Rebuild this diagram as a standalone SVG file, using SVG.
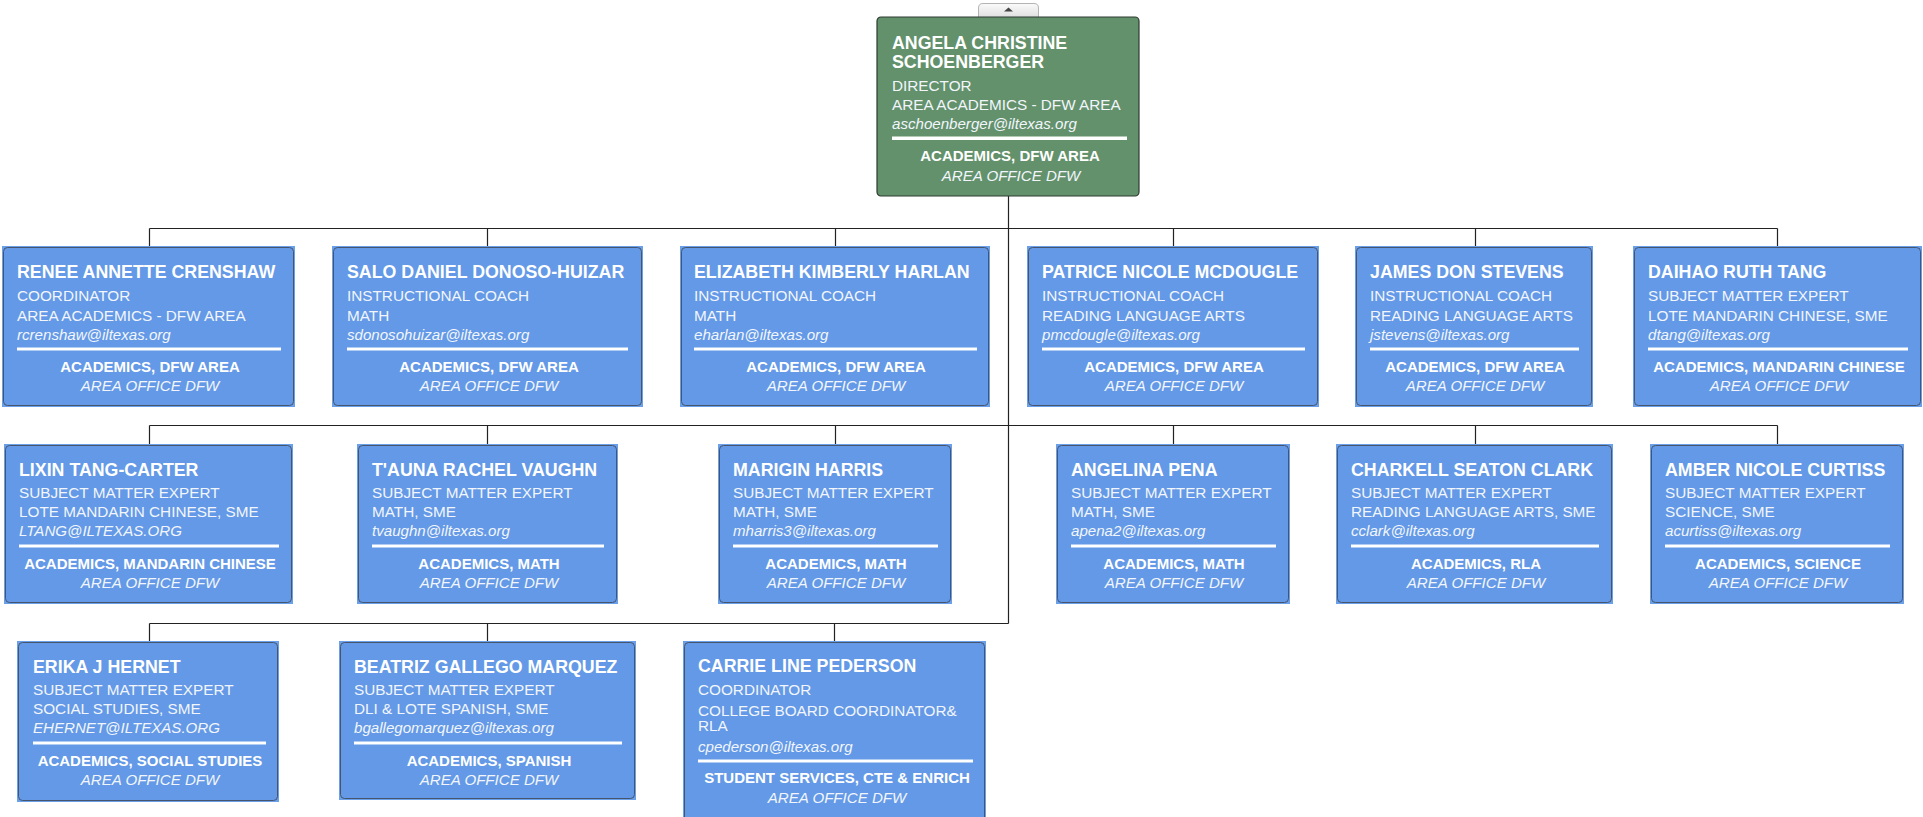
<svg xmlns="http://www.w3.org/2000/svg" width="1923" height="817" viewBox="0 0 1923 817">
<defs>
<linearGradient id="tabg" x1="0" y1="0" x2="0" y2="1">
<stop offset="0" stop-color="#fbfbfb"/>
<stop offset="1" stop-color="#dedede"/>
</linearGradient>
</defs>
<style>
text{font-family:"Liberation Sans",Arial,Helvetica,sans-serif;fill:#fff}
.nm{font-size:17.8px;font-weight:bold}
.t{font-size:15.3px;fill:#f2f6fc}
.em{font-size:15.1px;font-style:italic;fill:#f2f6fc}
.b{font-size:15px;font-weight:bold;text-anchor:middle}
.i{font-size:15.1px;font-style:italic;text-anchor:middle;fill:#f2f6fc}
.bg{fill:#6aa0ea}
.bx{fill:#6399e6;stroke:#46546c;stroke-width:1}
.gx{fill:#62916b;stroke:#2f3a31;stroke-width:1.2}
.sep{fill:#fff}
.con{fill:none;stroke:#222;stroke-width:1.2}
</style>
<rect width="1923" height="817" fill="#fff"/>

<g id="connectors">
<path class="con" d="M1008.5 196 V623.5 M149.5 228.5 H1777.5 M149.5 228.5 V247 M487.5 228.5 V247 M835.5 228.5 V247 M1173.5 228.5 V247 M1475.5 228.5 V247 M1777.5 228.5 V247 M149.5 425.5 H1777.5 M149.5 425.5 V445 M487.5 425.5 V445 M835.5 425.5 V445 M1173.5 425.5 V445 M1475.5 425.5 V445 M1777.5 425.5 V445 M149.5 623.5 H1008.5 M149.5 623.5 V642 M487.5 623.5 V642 M834.5 623.5 V642"/>
</g>

<g id="collapse-tab">
<path d="M978.5 18 V8 Q978.5 3.5 983 3.5 H1034 Q1038.5 3.5 1038.5 8 V18" fill="url(#tabg)" stroke="#b4b4b4"/>
<path d="M1004 11.5 L1008.5 7.5 L1013 11.5 Z" fill="#444"/>
</g>

<g id="n-schoenberger" transform="translate(877,17)">
<rect class="gx" x="0" y="0" width="262" height="179" rx="4"/>
<text class="nm" x="15" y="32">ANGELA CHRISTINE</text>
<text class="nm" x="15" y="51">SCHOENBERGER</text>
<text class="t" x="15" y="74">DIRECTOR</text>
<text class="t" x="15" y="93">AREA ACADEMICS - DFW AREA</text>
<text class="em" x="15" y="112">aschoenberger@iltexas.org</text>
<rect class="sep" x="15" y="119.5" width="235" height="3.5"/>
<text class="b" x="133" y="144">ACADEMICS, DFW AREA</text>
<text class="i" x="134" y="164">AREA OFFICE DFW</text>
</g>

<g id="n-crenshaw" transform="translate(3,247)">
<rect class="bg" x="-1" y="-1" width="293" height="161"/>
<rect class="bx" x="0.5" y="0.5" width="290" height="158" rx="4"/>
<text class="nm" x="14" y="31">RENEE ANNETTE CRENSHAW</text>
<text class="t" x="14" y="54">COORDINATOR</text>
<text class="t" x="14" y="74">AREA ACADEMICS - DFW AREA</text>
<text class="em" x="14" y="93">rcrenshaw@iltexas.org</text>
<rect class="sep" x="14" y="100.5" width="264" height="3"/>
<text class="b" x="147" y="125">ACADEMICS, DFW AREA</text>
<text class="i" x="147" y="144">AREA OFFICE DFW</text>
</g>

<g id="n-donosohuizar" transform="translate(333,247)">
<rect class="bg" x="-1" y="-1" width="311" height="161"/>
<rect class="bx" x="0.5" y="0.5" width="308" height="158" rx="4"/>
<text class="nm" x="14" y="31">SALO DANIEL DONOSO-HUIZAR</text>
<text class="t" x="14" y="54">INSTRUCTIONAL COACH</text>
<text class="t" x="14" y="74">MATH</text>
<text class="em" x="14" y="93">sdonosohuizar@iltexas.org</text>
<rect class="sep" x="14" y="100.5" width="281" height="3"/>
<text class="b" x="156" y="125">ACADEMICS, DFW AREA</text>
<text class="i" x="156" y="144">AREA OFFICE DFW</text>
</g>

<g id="n-harlan" transform="translate(681,247)">
<rect class="bg" x="-1" y="-1" width="310" height="161"/>
<rect class="bx" x="0.5" y="0.5" width="307" height="158" rx="4"/>
<text class="nm" x="13" y="31">ELIZABETH KIMBERLY HARLAN</text>
<text class="t" x="13" y="54">INSTRUCTIONAL COACH</text>
<text class="t" x="13" y="74">MATH</text>
<text class="em" x="13" y="93">eharlan@iltexas.org</text>
<rect class="sep" x="13" y="100.5" width="283" height="3"/>
<text class="b" x="155" y="125">ACADEMICS, DFW AREA</text>
<text class="i" x="155" y="144">AREA OFFICE DFW</text>
</g>

<g id="n-mcdougle" transform="translate(1028,247)">
<rect class="bg" x="-1" y="-1" width="292" height="161"/>
<rect class="bx" x="0.5" y="0.5" width="289" height="158" rx="4"/>
<text class="nm" x="14" y="31">PATRICE NICOLE MCDOUGLE</text>
<text class="t" x="14" y="54">INSTRUCTIONAL COACH</text>
<text class="t" x="14" y="74">READING LANGUAGE ARTS</text>
<text class="em" x="14" y="93">pmcdougle@iltexas.org</text>
<rect class="sep" x="14" y="100.5" width="263" height="3"/>
<text class="b" x="146" y="125">ACADEMICS, DFW AREA</text>
<text class="i" x="146" y="144">AREA OFFICE DFW</text>
</g>

<g id="n-stevens" transform="translate(1356,247)">
<rect class="bg" x="-1" y="-1" width="238" height="161"/>
<rect class="bx" x="0.5" y="0.5" width="235" height="158" rx="4"/>
<text class="nm" x="14" y="31">JAMES DON STEVENS</text>
<text class="t" x="14" y="54">INSTRUCTIONAL COACH</text>
<text class="t" x="14" y="74">READING LANGUAGE ARTS</text>
<text class="em" x="14" y="93">jstevens@iltexas.org</text>
<rect class="sep" x="14" y="100.5" width="209" height="3"/>
<text class="b" x="119" y="125">ACADEMICS, DFW AREA</text>
<text class="i" x="119" y="144">AREA OFFICE DFW</text>
</g>

<g id="n-tang" transform="translate(1634,247)">
<rect class="bg" x="-1" y="-1" width="289" height="161"/>
<rect class="bx" x="0.5" y="0.5" width="286" height="158" rx="4"/>
<text class="nm" x="14" y="31">DAIHAO RUTH TANG</text>
<text class="t" x="14" y="54">SUBJECT MATTER EXPERT</text>
<text class="t" x="14" y="74">LOTE MANDARIN CHINESE, SME</text>
<text class="em" x="14" y="93">dtang@iltexas.org</text>
<rect class="sep" x="14" y="100.5" width="260" height="3"/>
<text class="b" x="145" y="125">ACADEMICS, MANDARIN CHINESE</text>
<text class="i" x="145" y="144">AREA OFFICE DFW</text>
</g>

<g id="n-tangcarter" transform="translate(5,445)">
<rect class="bg" x="-1" y="-1" width="289" height="160"/>
<rect class="bx" x="0.5" y="0.5" width="286" height="157" rx="4"/>
<text class="nm" x="14" y="31">LIXIN TANG-CARTER</text>
<text class="t" x="14" y="53">SUBJECT MATTER EXPERT</text>
<text class="t" x="14" y="72">LOTE MANDARIN CHINESE, SME</text>
<text class="em" x="14" y="91">LTANG@ILTEXAS.ORG</text>
<rect class="sep" x="14" y="99.5" width="260" height="3"/>
<text class="b" x="145" y="124">ACADEMICS, MANDARIN CHINESE</text>
<text class="i" x="145" y="143">AREA OFFICE DFW</text>
</g>

<g id="n-vaughn" transform="translate(358,445)">
<rect class="bg" x="-1" y="-1" width="261" height="160"/>
<rect class="bx" x="0.5" y="0.5" width="258" height="157" rx="4"/>
<text class="nm" x="14" y="31">T'AUNA RACHEL VAUGHN</text>
<text class="t" x="14" y="53">SUBJECT MATTER EXPERT</text>
<text class="t" x="14" y="72">MATH, SME</text>
<text class="em" x="14" y="91">tvaughn@iltexas.org</text>
<rect class="sep" x="14" y="99.5" width="232" height="3"/>
<text class="b" x="131" y="124">ACADEMICS, MATH</text>
<text class="i" x="131" y="143">AREA OFFICE DFW</text>
</g>

<g id="n-harris" transform="translate(719,445)">
<rect class="bg" x="-1" y="-1" width="234" height="160"/>
<rect class="bx" x="0.5" y="0.5" width="231" height="157" rx="4"/>
<text class="nm" x="14" y="31">MARIGIN HARRIS</text>
<text class="t" x="14" y="53">SUBJECT MATTER EXPERT</text>
<text class="t" x="14" y="72">MATH, SME</text>
<text class="em" x="14" y="91">mharris3@iltexas.org</text>
<rect class="sep" x="14" y="99.5" width="205" height="3"/>
<text class="b" x="117" y="124">ACADEMICS, MATH</text>
<text class="i" x="117" y="143">AREA OFFICE DFW</text>
</g>

<g id="n-pena" transform="translate(1057,445)">
<rect class="bg" x="-1" y="-1" width="234" height="160"/>
<rect class="bx" x="0.5" y="0.5" width="231" height="157" rx="4"/>
<text class="nm" x="14" y="31">ANGELINA PENA</text>
<text class="t" x="14" y="53">SUBJECT MATTER EXPERT</text>
<text class="t" x="14" y="72">MATH, SME</text>
<text class="em" x="14" y="91">apena2@iltexas.org</text>
<rect class="sep" x="14" y="99.5" width="205" height="3"/>
<text class="b" x="117" y="124">ACADEMICS, MATH</text>
<text class="i" x="117" y="143">AREA OFFICE DFW</text>
</g>

<g id="n-clark" transform="translate(1337,445)">
<rect class="bg" x="-1" y="-1" width="277" height="160"/>
<rect class="bx" x="0.5" y="0.5" width="274" height="157" rx="4"/>
<text class="nm" x="14" y="31">CHARKELL SEATON CLARK</text>
<text class="t" x="14" y="53">SUBJECT MATTER EXPERT</text>
<text class="t" x="14" y="72">READING LANGUAGE ARTS, SME</text>
<text class="em" x="14" y="91">cclark@iltexas.org</text>
<rect class="sep" x="14" y="99.5" width="248" height="3"/>
<text class="b" x="139" y="124">ACADEMICS, RLA</text>
<text class="i" x="139" y="143">AREA OFFICE DFW</text>
</g>

<g id="n-curtiss" transform="translate(1651,445)">
<rect class="bg" x="-1" y="-1" width="254" height="160"/>
<rect class="bx" x="0.5" y="0.5" width="251" height="157" rx="4"/>
<text class="nm" x="14" y="31">AMBER NICOLE CURTISS</text>
<text class="t" x="14" y="53">SUBJECT MATTER EXPERT</text>
<text class="t" x="14" y="72">SCIENCE, SME</text>
<text class="em" x="14" y="91">acurtiss@iltexas.org</text>
<rect class="sep" x="14" y="99.5" width="225" height="3"/>
<text class="b" x="127" y="124">ACADEMICS, SCIENCE</text>
<text class="i" x="127" y="143">AREA OFFICE DFW</text>
</g>

<g id="n-hernet" transform="translate(18,642)">
<rect class="bg" x="-1" y="-1" width="262" height="161"/>
<rect class="bx" x="0.5" y="0.5" width="259" height="158" rx="4"/>
<text class="nm" x="15" y="31">ERIKA J HERNET</text>
<text class="t" x="15" y="53">SUBJECT MATTER EXPERT</text>
<text class="t" x="15" y="72">SOCIAL STUDIES, SME</text>
<text class="em" x="15" y="91">EHERNET@ILTEXAS.ORG</text>
<rect class="sep" x="15" y="99.5" width="233" height="3"/>
<text class="b" x="132" y="124">ACADEMICS, SOCIAL STUDIES</text>
<text class="i" x="132" y="143">AREA OFFICE DFW</text>
</g>

<g id="n-gallegomarquez" transform="translate(340,642)">
<rect class="bg" x="-1" y="-1" width="297" height="159"/>
<rect class="bx" x="0.5" y="0.5" width="294" height="156" rx="4"/>
<text class="nm" x="14" y="31">BEATRIZ GALLEGO MARQUEZ</text>
<text class="t" x="14" y="53">SUBJECT MATTER EXPERT</text>
<text class="t" x="14" y="72">DLI &amp; LOTE SPANISH, SME</text>
<text class="em" x="14" y="91">bgallegomarquez@iltexas.org</text>
<rect class="sep" x="14" y="99.5" width="268" height="3"/>
<text class="b" x="149" y="124">ACADEMICS, SPANISH</text>
<text class="i" x="149" y="143">AREA OFFICE DFW</text>
</g>

<g id="n-pederson" transform="translate(684,642)">
<rect class="bg" x="-1" y="-1" width="303" height="190"/>
<rect class="bx" x="0.5" y="0.5" width="300" height="187" rx="4"/>
<text class="nm" x="14" y="30">CARRIE LINE PEDERSON</text>
<text class="t" x="14" y="53">COORDINATOR</text>
<text class="t" x="14" y="74">COLLEGE BOARD COORDINATOR&amp;</text>
<text class="t" x="14" y="89">RLA</text>
<text class="em" x="14" y="110">cpederson@iltexas.org</text>
<rect class="sep" x="14" y="117.5" width="275" height="3"/>
<text class="b" x="153" y="141">STUDENT SERVICES, CTE &amp; ENRICH</text>
<text class="i" x="153" y="161">AREA OFFICE DFW</text>
</g>
</svg>
